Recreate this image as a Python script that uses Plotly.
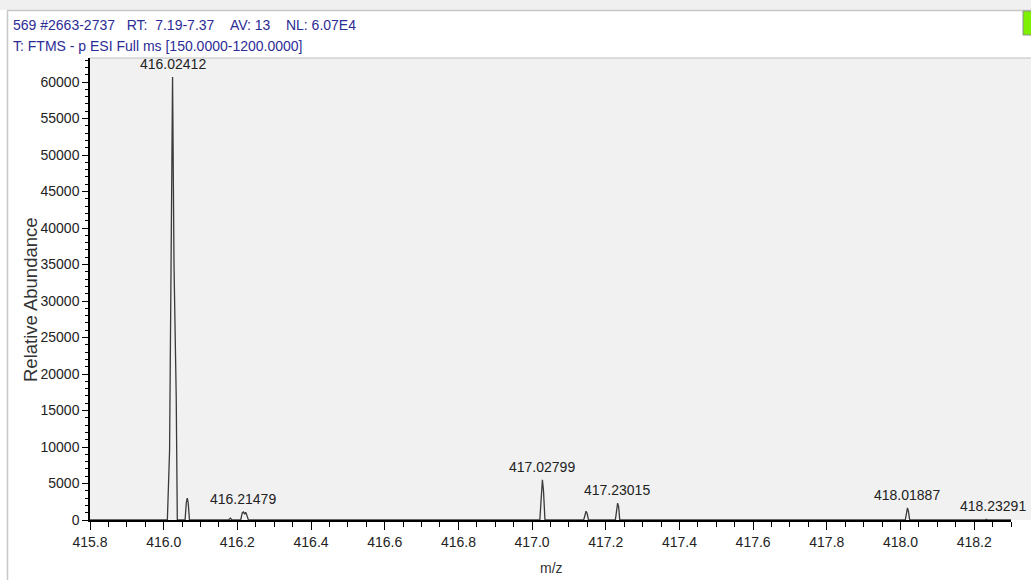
import plotly.graph_objects as go

# ---- data ----
# profile spectrum points (m/z, intensity)
mz_profile = [415.80, 416.010, 416.016, 416.0205, 416.0241, 416.028, 416.034, 416.037,
              416.058, 416.0615, 416.064, 416.0665, 416.070,
              416.176, 416.181, 416.186,
              416.209, 416.2135, 416.2165, 416.2195, 416.2225, 416.2255, 416.230,
              417.021, 417.025, 417.028, 417.031, 417.035,
              417.140, 417.1435, 417.1465, 417.1495, 417.153,
              417.226, 417.2295, 417.2322, 417.235, 417.238,
              418.013, 418.0165, 418.0189, 418.0215, 418.025,
              418.229, 418.2329, 418.237, 418.30]
intensity_profile = [0, 0, 9500, 35000, 60700, 35000, 17000, 0,
                     0, 2400, 3000, 2400, 0,
                     0, 250, 0,
                     0, 1000, 1100, 800, 1050, 700, 0,
                     0, 4000, 5500, 4000, 0,
                     0, 900, 1200, 900, 0,
                     0, 1800, 2300, 1800, 0,
                     0, 1200, 1650, 1200, 0,
                     0, 100, 0, 0]

label_mz = [416.02412, 416.21479, 417.02799, 417.23015, 418.01887, 418.23291]
label_int = [60700, 1100, 5500, 2300, 1650, 100]
label_text = ["416.02412", "416.21479", "417.02799", "417.23015", "418.01887", "418.23291"]

x_ticks = [415.8, 416.0, 416.2, 416.4, 416.6, 416.8, 417.0, 417.2, 417.4, 417.6, 417.8, 418.0, 418.2]
y_ticks = [0, 5000, 10000, 15000, 20000, 25000, 30000, 35000, 40000, 45000, 50000, 55000, 60000]

header1 = ("569 #2663-2737&nbsp;&nbsp;&nbsp;RT:&nbsp;&nbsp;7.19-7.37&nbsp;&nbsp;&nbsp;&nbsp;"
           "AV:&nbsp;13&nbsp;&nbsp;&nbsp;&nbsp;NL:&nbsp;6.07E4")
header2 = "T: FTMS - p ESI Full ms [150.0000-1200.0000]"

# ---- layout geometry (pixels) ----
W, H = 1031, 580
L, R, T, B = 90, 20, 58, 60
PW = W - L - R
PH = H - T - B


def px(xp):
    return (xp - L) / PW


def py(yp):
    return (H - B - yp) / PH


FONT = "Liberation Sans, Arial, sans-serif"

fig = go.Figure()
fig.add_trace(go.Scatter(x=mz_profile, y=intensity_profile, mode="lines",
                         line=dict(color="#3a3a3a", width=1.3),
                         hoverinfo="skip", showlegend=False, cliponaxis=False))

annotations = []
for m, v, t in zip(label_mz, label_int, label_text):
    xs = 7 if t == "418.23291" else 0
    annotations.append(dict(x=m, y=v, xref="x", yref="y", text=t, showarrow=False,
                            yanchor="bottom", yshift=3, xshift=xs,
                            font=dict(family=FONT, size=14, color="#222222")))

annotations.append(dict(x=px(11), y=py(25), xref="paper", yref="paper",
                        text=header1,
                        showarrow=False, xanchor="left", yanchor="middle",
                        font=dict(family=FONT, size=14, color="#2c2c96")))
annotations.append(dict(x=px(11), y=py(46), xref="paper", yref="paper", text=header2,
                        showarrow=False, xanchor="left", yanchor="middle",
                        font=dict(family=FONT, size=14, color="#2c2c96")))
annotations.append(dict(x=px(30), y=py(300), xref="paper", yref="paper",
                        text="Relative Abundance", textangle=-90, showarrow=False,
                        xanchor="center", yanchor="middle",
                        font=dict(family=FONT, size=18.5, color="#333333")))
annotations.append(dict(x=px(551), y=py(568), xref="paper", yref="paper", text="m/z",
                        showarrow=False, xanchor="center", yanchor="middle",
                        font=dict(family=FONT, size=14, color="#333333")))

shapes = [
    # top gray band
    dict(type="rect", xref="paper", yref="paper", x0=px(0), x1=px(W), y0=py(10), y1=py(0),
         fillcolor="#f0f0f0", line=dict(width=0), layer="below"),
    dict(type="line", xref="paper", yref="paper", x0=px(7), x1=px(W), y0=py(10.5), y1=py(10.5),
         line=dict(color="#c8c8c8", width=1.5)),
    dict(type="line", xref="paper", yref="paper", x0=px(7.5), x1=px(7.5), y0=py(10), y1=py(H),
         line=dict(color="#c8c8c8", width=1.5)),
    # plot-area extension to the right edge
    dict(type="rect", xref="paper", yref="paper", x0=1, x1=px(W), y0=0, y1=1,
         fillcolor="#f1f1f1", line=dict(width=0), layer="below"),
    dict(type="line", xref="paper", yref="paper", x0=0, x1=px(W), y0=1, y1=1,
         line=dict(color="#c0c0c0", width=1.2)),
    # green indicator box
    dict(type="rect", xref="paper", yref="paper", x0=px(1023), x1=px(1032), y0=py(35), y1=py(11),
         fillcolor="#7cf000", line=dict(color="#909090", width=1)),
]

fig.update_layout(
    width=W, height=H,
    margin=dict(l=L, r=R, t=T, b=B, pad=0),
    paper_bgcolor="white", plot_bgcolor="#f1f1f1",
    font=dict(family=FONT, size=14, color="#222222"),
    annotations=annotations, shapes=shapes,
    xaxis=dict(range=[415.8, 418.3], tickvals=x_ticks,
               ticktext=[f"{v:.1f}" for v in x_ticks],
               showgrid=False, zeroline=False, showline=True, linecolor="black", linewidth=1.5,
               ticks="outside", ticklen=8, tickwidth=1.2, tickcolor="black",
               tickfont=dict(family=FONT, size=14, color="#222222"),
               minor=dict(dtick=0.05, tick0=415.8, ticks="outside", ticklen=5,
                          tickwidth=1.2, tickcolor="black", showgrid=False)),
    yaxis=dict(range=[0, 63300], tickvals=y_ticks, ticktext=[str(v) for v in y_ticks],
               showgrid=False, zeroline=False, showline=True, linecolor="black", linewidth=1.5,
               ticks="outside", ticklen=6, tickwidth=1.2, tickcolor="black",
               tickfont=dict(family=FONT, size=14, color="#222222"),
               minor=dict(dtick=1000, tick0=0, ticks="outside", ticklen=3,
                          tickwidth=1, tickcolor="black", showgrid=False)),
)

fig.write_html("out.html")
